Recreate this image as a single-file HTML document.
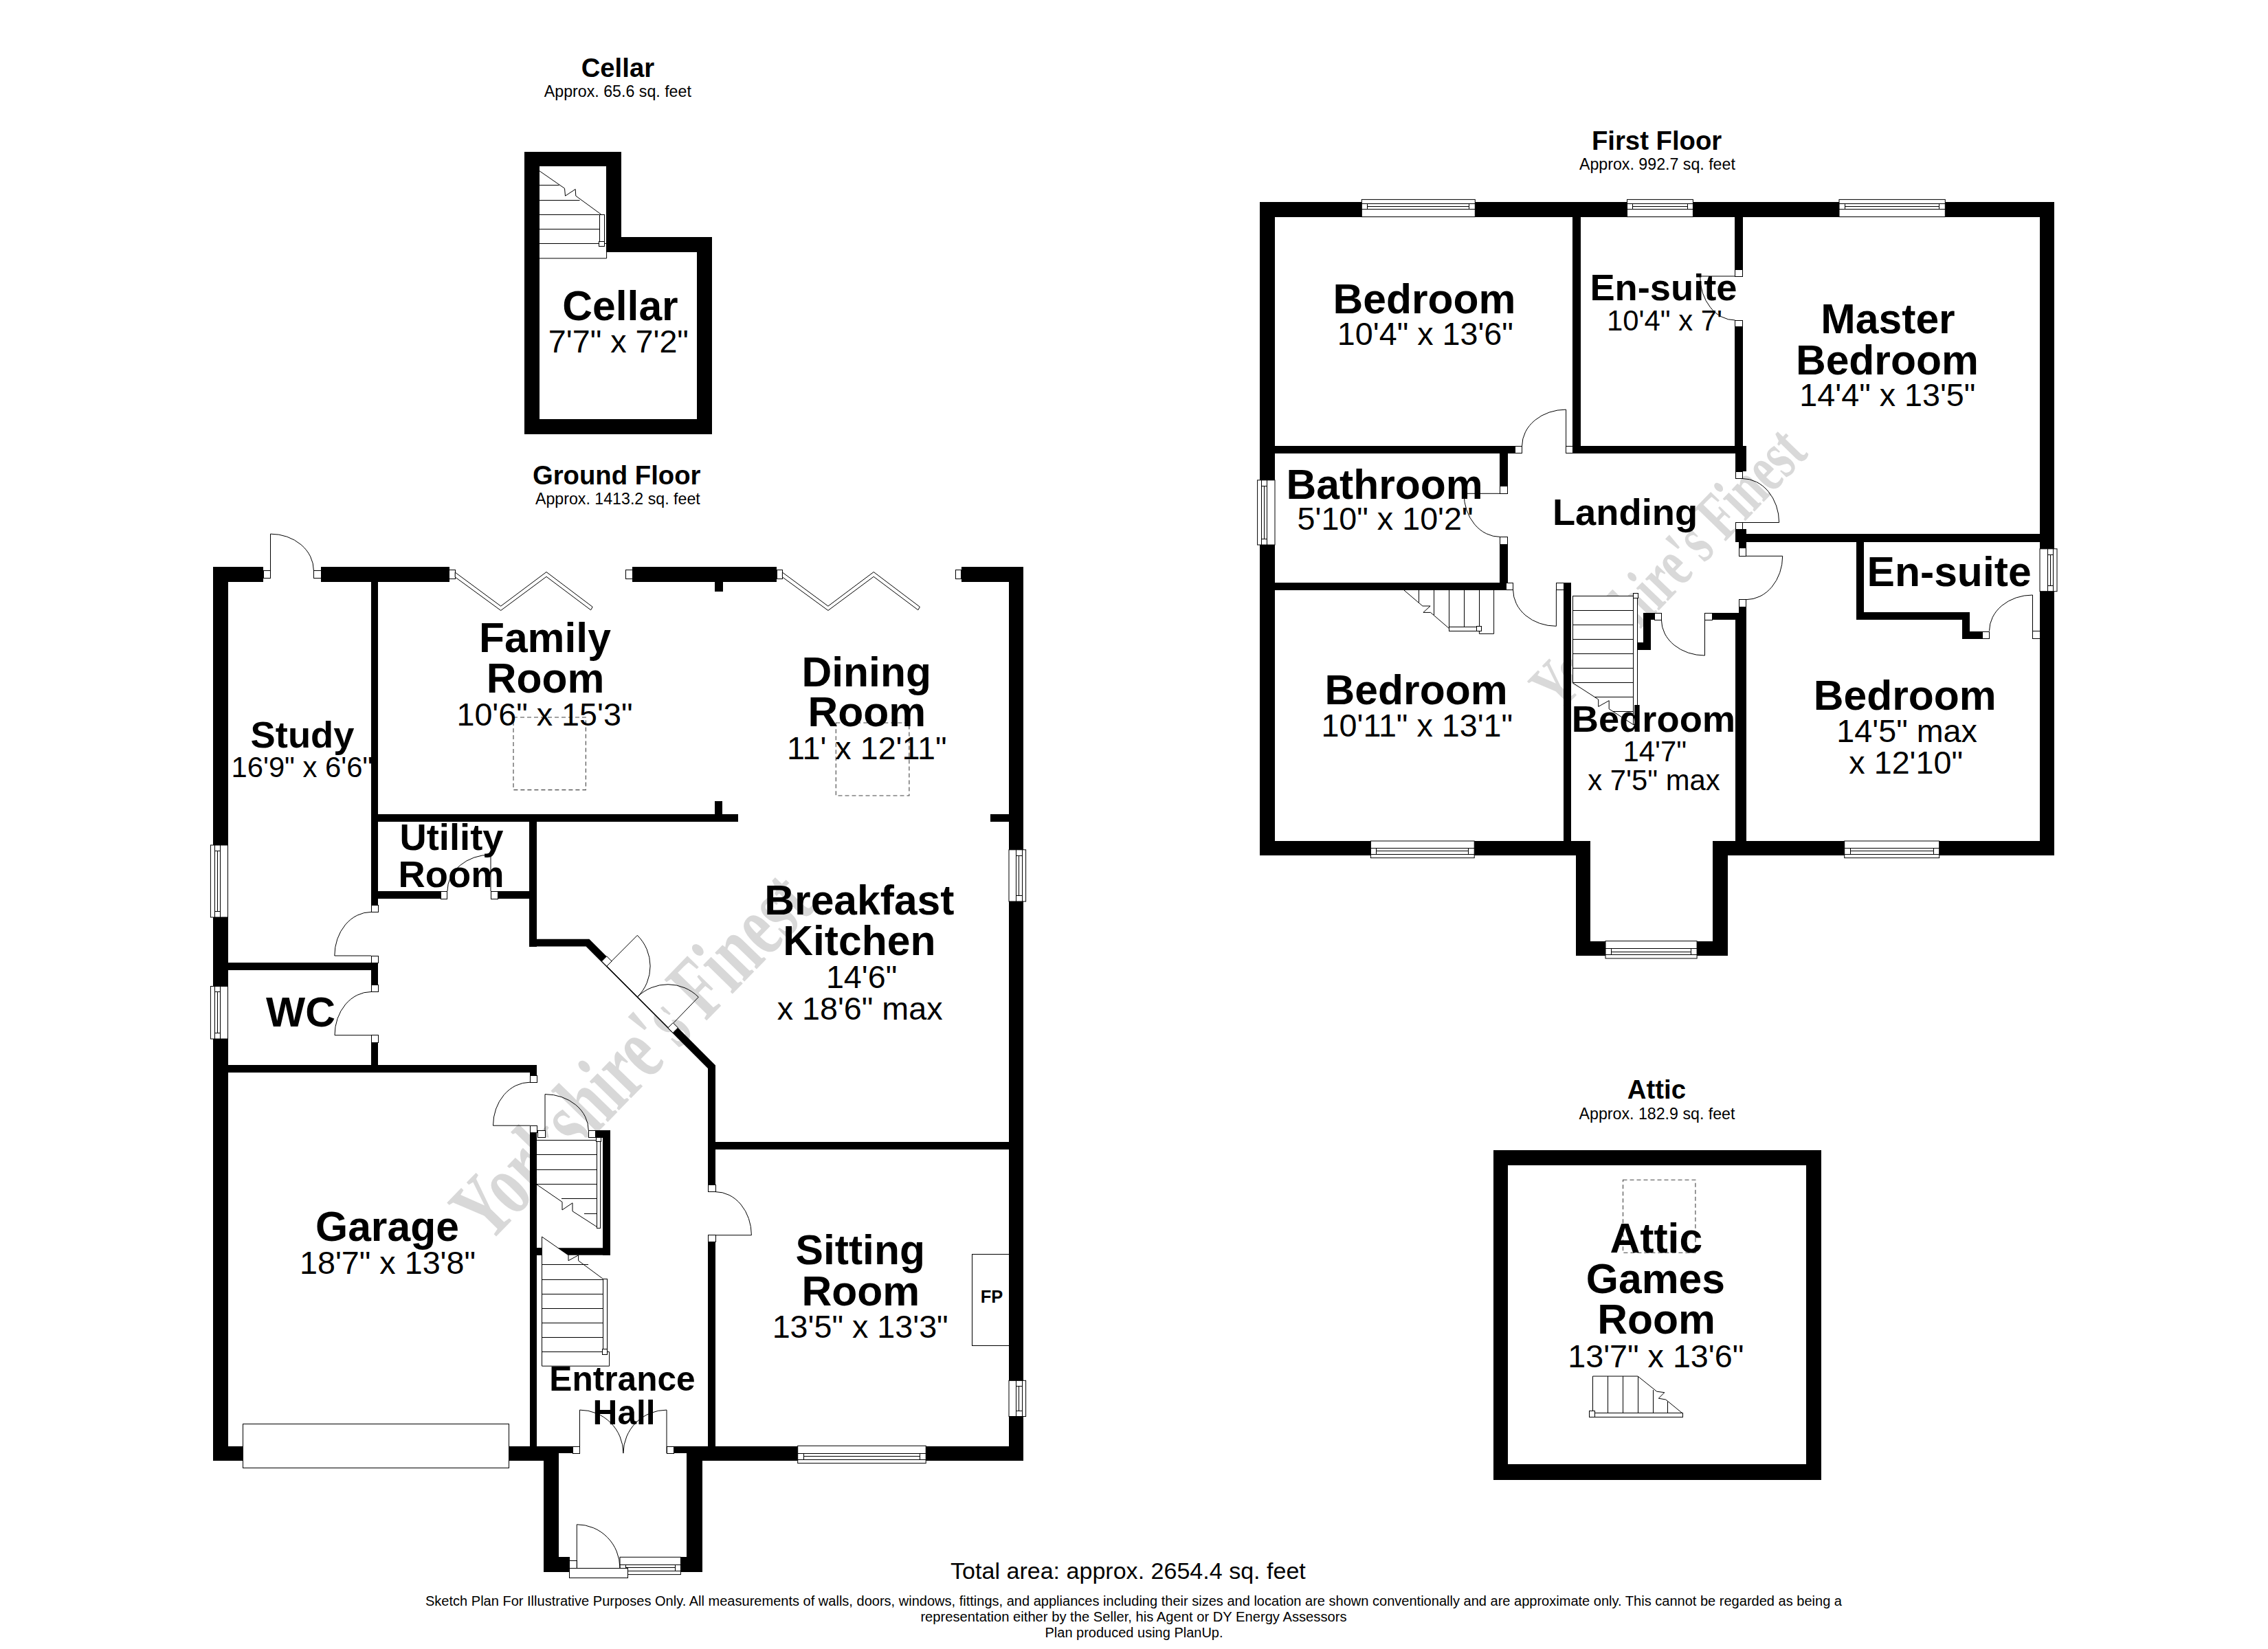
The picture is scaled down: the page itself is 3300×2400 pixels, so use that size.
<!DOCTYPE html>
<html><head><meta charset="utf-8"><title>Floor Plan</title>
<style>html,body{margin:0;padding:0;background:#fff;width:3300px;height:2400px;overflow:hidden}svg{display:block}</style>
</head><body>
<svg width="3300" height="2400" viewBox="0 0 3300 2400">
<style>
.j{fill:#fff;stroke:#000;stroke-width:1}
.sf{fill:#fff;stroke:none}
.sfn{fill:#fff;stroke:none}
.ds{fill:#fff;stroke:none}
.pl{fill:none;stroke:#000;stroke-width:1}
line{stroke:#000;stroke-width:1}
.dash{fill:none;stroke:#444;stroke-width:1.1;stroke-dasharray:6 4}
text{font-family:"Liberation Sans",sans-serif;fill:#000}
.wm{font-family:"Liberation Serif",serif;font-weight:bold}
</style>
<rect width="3300" height="2400" fill="#fff"/>
<g><text class="wm" style="fill:#d8d8d8" transform="translate(710.61,1811.2) rotate(-45.75) scale(1,1.4784)" font-size="88.48">Yorkshire&#39;s Finest</text><text class="wm" style="fill:#d9d9d9" transform="translate(2268.31,1038.33) rotate(-45.93) scale(1,1.4782)" font-size="67.77">Yorkshire&#39;s Finest</text></g>
<g><rect class="sf" x="785.5" y="242.5" width="97" height="134"/><polyline class="pl" points="785,376 882.6,376 882.6,354.5"/><line x1="785" y1="354.5" x2="882.6" y2="354.5"/><line x1="785" y1="333.5" x2="872.4" y2="333.5"/><line x1="785" y1="312.5" x2="872.4" y2="312.5"/><line x1="785" y1="291.5" x2="843.5" y2="291.5"/><line x1="785" y1="269.5" x2="813.5" y2="269.5"/><polyline class="pl" points="784.8,248.7 821.5,274.2 822.5,285.1 837.2,275.4 837.8,285.1 874.6,312"/><rect class="j" x="872.5" y="312.5" width="7" height="46"/><rect class="j" x="871.5" y="351.5" width="8" height="7"/><rect class="sf" x="781.5" y="1655.5" width="85" height="161"/><line x1="781" y1="1659.5" x2="868.3" y2="1659.5"/><line x1="781" y1="1680.5" x2="868.3" y2="1680.5"/><line x1="781" y1="1702.5" x2="868.3" y2="1702.5"/><line x1="781" y1="1723.5" x2="868.3" y2="1723.5"/><line x1="817" y1="1744.5" x2="868.3" y2="1744.5"/><line x1="850" y1="1766.5" x2="868.3" y2="1766.5"/><polyline class="pl" points="781,1724 818,1749.4 818,1761 833,1750.8 833,1762.8 868.3,1785.5"/><rect class="j" x="868.5" y="1657.5" width="5" height="130"/><rect class="j" x="867.5" y="1654.5" width="7" height="7"/><rect class="sfn" x="788.5" y="1800.5" width="89" height="188"/><polyline class="pl" points="788.5,1800 788.5,1988.2 886.6,1988.2 886.6,1967.7"/><polyline class="pl" points="788.5,1800 827,1826.8 827,1834.8 841.6,1826.8 841.6,1834.8 877.6,1861.5"/><line x1="788.5" y1="1862.5" x2="877.6" y2="1862.5"/><line x1="788.5" y1="1883.5" x2="877.6" y2="1883.5"/><line x1="788.5" y1="1904.5" x2="877.6" y2="1904.5"/><line x1="788.5" y1="1925.5" x2="877.6" y2="1925.5"/><line x1="788.5" y1="1946.5" x2="877.6" y2="1946.5"/><line x1="788.5" y1="1840.5" x2="856" y2="1840.5"/><line x1="788.5" y1="1967.5" x2="886.6" y2="1967.5"/><rect class="j" x="877.5" y="1861.5" width="6" height="109"/><rect class="j" x="876.5" y="1963.5" width="7" height="8"/><polygon class="sfn" points="2288.3,867 2377,867 2377,1054.3 2341.2,1031.8 2341.2,1019.7 2325.7,1028.4 2325.7,1018 2288.3,993.8"/><line x1="2288.5" y1="867" x2="2288.5" y2="993.8"/><line x1="2288.3" y1="867.5" x2="2377" y2="867.5"/><line x1="2288.3" y1="888.5" x2="2377" y2="888.5"/><line x1="2288.3" y1="909.5" x2="2377" y2="909.5"/><line x1="2288.3" y1="930.5" x2="2377" y2="930.5"/><line x1="2288.3" y1="951.5" x2="2377" y2="951.5"/><line x1="2288.3" y1="972.5" x2="2377" y2="972.5"/><line x1="2288.3" y1="993.5" x2="2377" y2="993.5"/><line x1="2320" y1="1014.5" x2="2377" y2="1014.5"/><line x1="2346.6" y1="1035.5" x2="2377" y2="1035.5"/><polyline class="pl" points="2288.3,993.8 2325.7,1018 2325.7,1028.4 2341.2,1019.7 2341.2,1031.8 2376,1054.3"/><rect class="j" x="2376.5" y="867.5" width="6" height="187"/><rect class="j" x="2376.5" y="863.5" width="7" height="7"/><polygon class="sfn" points="2042.7,858.8 2173.6,858.8 2173.6,922.4 2152.4,922.4 2152.4,918 2108.3,918 2108.3,914.5 2081.5,891.4 2070.9,891.4 2081.1,882 2069.9,882"/><polyline class="pl" points="2042.7,858.8 2069.9,882 2081.1,882 2070.9,891.4 2081.5,891.4 2108.3,914.5"/><line x1="2064.5" y1="858.8" x2="2064.5" y2="876.7"/><line x1="2086.5" y1="858.8" x2="2086.5" y2="895.1"/><line x1="2108.5" y1="858.8" x2="2108.5" y2="914.5"/><line x1="2130.5" y1="858.8" x2="2130.5" y2="912.4"/><line x1="2152.5" y1="858.8" x2="2152.5" y2="911.3"/><polyline class="pl" points="2173.6,858.8 2173.6,922.4 2152.4,922.4 2152.4,918"/><rect class="j" x="2108.5" y="912.5" width="40" height="6"/><rect class="j" x="2148.5" y="911.5" width="7" height="7"/><polygon class="sfn" points="2317.5,2003 2383,2003 2410.7,2025.2 2421.8,2026.7 2413.3,2035.2 2423.7,2037 2447.7,2056.7 2317.5,2056.7"/><polyline class="pl" points="2317.5,2056.7 2317.5,2003 2383,2003 2410.7,2025.2 2421.8,2026.7 2413.3,2035.2 2423.7,2037 2447.7,2056.7"/><line x1="2339.5" y1="2003" x2="2339.5" y2="2056.7"/><line x1="2361.5" y1="2003" x2="2361.5" y2="2056.7"/><line x1="2383.5" y1="2003" x2="2383.5" y2="2056.7"/><line x1="2405.5" y1="2023" x2="2405.5" y2="2056.7"/><line x1="2426.5" y1="2040" x2="2426.5" y2="2056.7"/><rect class="j" x="2312.5" y="2056.5" width="136" height="6"/><rect class="j" x="2312.5" y="2053.5" width="8" height="9"/></g>
<g fill="#000"><rect x="763" y="221" width="141" height="21"/><rect x="763" y="221" width="22" height="411"/><rect x="882" y="221" width="22" height="146"/><rect x="882" y="345" width="154" height="22"/><rect x="1014" y="345" width="22" height="287"/><rect x="763" y="610" width="273" height="22"/><rect x="310" y="825" width="73" height="22"/><rect x="467" y="825" width="187" height="22"/><rect x="920" y="825" width="210" height="22"/><rect x="1399" y="825" width="90" height="22"/><rect x="310" y="825" width="22" height="1301"/><rect x="1468" y="825" width="21" height="1301"/><rect x="1040" y="846" width="12" height="15"/><rect x="310" y="2105" width="481" height="21"/><rect x="791" y="2105" width="22" height="183"/><rect x="791" y="2266" width="38" height="22"/><rect x="990" y="2266" width="32" height="22"/><rect x="999" y="2105" width="23" height="183"/><rect x="999" y="2105" width="490" height="21"/><rect x="781" y="2105" width="52" height="10"/><rect x="980" y="2105" width="20" height="10"/><rect x="540" y="847" width="10" height="470"/><rect x="540" y="1402" width="10" height="32"/><rect x="540" y="1517" width="10" height="33"/><rect x="331" y="1401" width="219" height="11"/><rect x="550" y="1185" width="524" height="11"/><rect x="1040" y="1166" width="11" height="19"/><rect x="1441" y="1185" width="27" height="11"/><rect x="550" y="1297" width="91" height="11"/><rect x="724" y="1297" width="57" height="11"/><rect x="770" y="1196" width="11" height="182"/><polygon points="770,1366.8 857.4,1366.8 1041,1550.4 1041,1662 1030,1662 1030,1555 852.6,1377.6 770,1377.6"/><rect x="1030" y="1662" width="11" height="62"/><rect x="1030" y="1808" width="11" height="297"/><rect x="1041" y="1662" width="427" height="11"/><rect x="331" y="1550" width="450" height="11"/><rect x="771" y="1550" width="10" height="15"/><rect x="771" y="1648" width="10" height="457"/><rect x="866" y="1645" width="22" height="11"/><rect x="877" y="1645" width="11" height="182"/><polygon points="811.7,1816.2 888,1816.2 888,1826.8 827,1826.8"/><rect x="781" y="1816" width="8" height="11"/><rect x="1833" y="294" width="1156" height="22"/><rect x="1833" y="294" width="22" height="951"/><rect x="2968" y="294" width="21" height="951"/><rect x="1833" y="1224" width="481" height="21"/><rect x="2293" y="1224" width="21" height="167"/><rect x="2293" y="1370" width="221" height="21"/><rect x="2492" y="1224" width="22" height="167"/><rect x="2492" y="1224" width="497" height="21"/><rect x="2288" y="315" width="12" height="334"/><rect x="1855" y="649" width="349" height="11"/><rect x="2288" y="649" width="253" height="11"/><rect x="2524" y="315" width="12" height="77"/><rect x="2524" y="476" width="12" height="173"/><rect x="2525" y="649" width="16" height="37"/><rect x="2525" y="770" width="16" height="19"/><rect x="2541" y="777" width="427" height="12"/><rect x="2530" y="788" width="11" height="10"/><rect x="2530" y="883" width="11" height="10"/><rect x="2525" y="892" width="16" height="332"/><rect x="2182" y="660" width="12" height="48"/><rect x="2182" y="792" width="12" height="56"/><rect x="1855" y="848" width="337" height="11"/><rect x="2275" y="848" width="11" height="376"/><rect x="2391" y="892" width="16" height="10"/><rect x="2391" y="892" width="11" height="54"/><rect x="2383" y="935" width="19" height="11"/><rect x="2491" y="892" width="35" height="10"/><rect x="2701" y="788" width="11" height="114"/><rect x="2701" y="891" width="165" height="11"/><rect x="2855" y="891" width="11" height="39"/><rect x="2855" y="919" width="29" height="11"/><rect x="2173" y="1674" width="477" height="22"/><rect x="2173" y="2131" width="477" height="23"/><rect x="2173" y="1674" width="21" height="480"/><rect x="2628" y="1674" width="22" height="480"/></g>
<g><rect class="j" x="306.4" y="1230" width="25.1" height="105"/><line x1="312.5" y1="1230" x2="312.5" y2="1335"/><line x1="320.5" y1="1230" x2="320.5" y2="1335"/><line x1="312" y1="1238.5" x2="320.4" y2="1238.5"/><line x1="312" y1="1326.5" x2="320.4" y2="1326.5"/><line x1="316.5" y1="1238.4" x2="316.5" y2="1326.6"/><rect class="j" x="306.4" y="1435.5" width="25.1" height="76.5"/><line x1="312.5" y1="1435.5" x2="312.5" y2="1512"/><line x1="320.5" y1="1435.5" x2="320.5" y2="1512"/><line x1="312" y1="1443.5" x2="320.4" y2="1443.5"/><line x1="312" y1="1503.5" x2="320.4" y2="1503.5"/><line x1="316.5" y1="1443.9" x2="316.5" y2="1503.6"/><rect class="j" x="1468" y="1236.8" width="24.6" height="75.2"/><line x1="1487.5" y1="1236.8" x2="1487.5" y2="1312"/><line x1="1478.5" y1="1236.8" x2="1478.5" y2="1312"/><line x1="1487" y1="1245.5" x2="1478.6" y2="1245.5"/><line x1="1487" y1="1303.5" x2="1478.6" y2="1303.5"/><line x1="1482.5" y1="1245.2" x2="1482.5" y2="1303.6"/><rect class="j" x="1468" y="2009.3" width="24.6" height="52.2"/><line x1="1487.5" y1="2009.3" x2="1487.5" y2="2061.5"/><line x1="1478.5" y1="2009.3" x2="1478.5" y2="2061.5"/><line x1="1487" y1="2017.5" x2="1478.6" y2="2017.5"/><line x1="1487" y1="2053.5" x2="1478.6" y2="2053.5"/><line x1="1482.5" y1="2017.7" x2="1482.5" y2="2053.1"/><rect class="j" x="1160.7" y="2104.3" width="186.5" height="25.3"/><line x1="1160.7" y1="2124.5" x2="1347.2" y2="2124.5"/><line x1="1160.7" y1="2115.5" x2="1347.2" y2="2115.5"/><line x1="1169.5" y1="2124" x2="1169.5" y2="2115.6"/><line x1="1338.5" y1="2124" x2="1338.5" y2="2115.6"/><line x1="1169.1" y1="2119.5" x2="1338.8" y2="2119.5"/><rect class="j" x="902" y="2266.3" width="88.4" height="25.3"/><line x1="902" y1="2286.5" x2="990.4" y2="2286.5"/><line x1="902" y1="2277.5" x2="990.4" y2="2277.5"/><line x1="910.5" y1="2286" x2="910.5" y2="2277.6"/><line x1="982.5" y1="2286" x2="982.5" y2="2277.6"/><line x1="910.4" y1="2281.5" x2="982" y2="2281.5"/><rect class="j" x="353.5" y="2072.5" width="387" height="64"/><rect class="j" x="828.5" y="2282.5" width="85" height="14"/><rect class="j" x="383.5" y="830.5" width="10" height="11"/><rect class="j" x="456.5" y="830.5" width="11" height="11"/><rect class="j" x="653.5" y="829.5" width="9" height="13"/><rect class="j" x="910.5" y="829.5" width="10" height="13"/><rect class="j" x="1130.5" y="829.5" width="8" height="13"/><rect class="j" x="1390.5" y="829.5" width="8" height="13"/><rect class="j" x="540.5" y="1317.5" width="10" height="10"/><rect class="j" x="540.5" y="1391.5" width="10" height="10"/><rect class="j" x="540.5" y="1433.5" width="10" height="10"/><rect class="j" x="540.5" y="1506.5" width="10" height="11"/><rect class="j" x="641.5" y="1297.5" width="9" height="11"/><rect class="j" x="714.5" y="1297.5" width="10" height="11"/><rect class="j" x="771.5" y="1565.5" width="10" height="10"/><rect class="j" x="771.5" y="1638.5" width="10" height="10"/><rect class="j" x="782.5" y="1645.5" width="11" height="10"/><rect class="j" x="856.5" y="1645.5" width="10" height="10"/><rect class="j" x="1030.5" y="1724.5" width="11" height="10"/><rect class="j" x="1030.5" y="1797.5" width="11" height="10"/><rect class="j" x="833.5" y="2105.5" width="10" height="10"/><rect class="j" x="970.5" y="2105.5" width="10" height="10"/><rect class="j" x="828.5" y="2271.5" width="11" height="11"/><polygon fill="#fff" points="889.7,1399 883.1,1406 972.1,1495.6 980.3,1488.5 973,1481 896,1392"/><polygon class="j" points="882.8,1391.7 890.1,1399 882.8,1406.3 875.5,1399"/><polygon class="j" points="979.2,1488.6 986.5,1495.9 979.2,1503.2 971.9,1495.9"/><line x1="883.1" y1="1406.2" x2="972.1" y2="1495.4"/><polygon class="j" points="662.2,833 728.7,882.2 795,832.5 862.2,883.3 859.6,887.8 795,839.3 728.7,888.5 662.2,839.9"/><polygon class="j" points="1138.4,833 1204.9,882.2 1271.2,832.5 1338.4,883.3 1335.8,887.8 1271.2,839.3 1204.9,888.5 1138.4,839.9"/><rect class="j" x="1414.5" y="1825.5" width="54" height="133"/><rect class="j" x="1981.3" y="290.4" width="165" height="25.2"/><line x1="1981.3" y1="296.5" x2="2146.3" y2="296.5"/><line x1="1981.3" y1="304.5" x2="2146.3" y2="304.5"/><line x1="1989.5" y1="296" x2="1989.5" y2="304.4"/><line x1="2137.5" y1="296" x2="2137.5" y2="304.4"/><line x1="1989.7" y1="300.5" x2="2137.9" y2="300.5"/><rect class="j" x="2367.5" y="290.4" width="95.9" height="25.2"/><line x1="2367.5" y1="296.5" x2="2463.4" y2="296.5"/><line x1="2367.5" y1="304.5" x2="2463.4" y2="304.5"/><line x1="2375.5" y1="296" x2="2375.5" y2="304.4"/><line x1="2455.5" y1="296" x2="2455.5" y2="304.4"/><line x1="2375.9" y1="300.5" x2="2455" y2="300.5"/><rect class="j" x="2676" y="290.4" width="154.3" height="25.2"/><line x1="2676" y1="296.5" x2="2830.3" y2="296.5"/><line x1="2676" y1="304.5" x2="2830.3" y2="304.5"/><line x1="2684.5" y1="296" x2="2684.5" y2="304.4"/><line x1="2821.5" y1="296" x2="2821.5" y2="304.4"/><line x1="2684.4" y1="300.5" x2="2821.9" y2="300.5"/><rect class="j" x="1829.6" y="698.8" width="25.4" height="94.2"/><line x1="1835.5" y1="698.8" x2="1835.5" y2="793"/><line x1="1843.5" y1="698.8" x2="1843.5" y2="793"/><line x1="1835.2" y1="707.5" x2="1843.6" y2="707.5"/><line x1="1835.2" y1="784.5" x2="1843.6" y2="784.5"/><line x1="1839.5" y1="707.2" x2="1839.5" y2="784.6"/><rect class="j" x="2968" y="798.8" width="25" height="61.9"/><line x1="2987.5" y1="798.8" x2="2987.5" y2="860.7"/><line x1="2979.5" y1="798.8" x2="2979.5" y2="860.7"/><line x1="2987.4" y1="807.5" x2="2979" y2="807.5"/><line x1="2987.4" y1="852.5" x2="2979" y2="852.5"/><line x1="2983.5" y1="807.2" x2="2983.5" y2="852.3"/><rect class="j" x="1994.4" y="1224" width="150.8" height="24.6"/><line x1="1994.4" y1="1243.5" x2="2145.2" y2="1243.5"/><line x1="1994.4" y1="1234.5" x2="2145.2" y2="1234.5"/><line x1="2002.5" y1="1243" x2="2002.5" y2="1234.6"/><line x1="2136.5" y1="1243" x2="2136.5" y2="1234.6"/><line x1="2002.8" y1="1238.5" x2="2136.8" y2="1238.5"/><rect class="j" x="2336" y="1369.6" width="133.1" height="25.3"/><line x1="2336" y1="1389.5" x2="2469.1" y2="1389.5"/><line x1="2336" y1="1380.5" x2="2469.1" y2="1380.5"/><line x1="2344.5" y1="1389.3" x2="2344.5" y2="1380.9"/><line x1="2460.5" y1="1389.3" x2="2460.5" y2="1380.9"/><line x1="2344.4" y1="1385.5" x2="2460.7" y2="1385.5"/><rect class="j" x="2683.7" y="1224" width="138" height="24.6"/><line x1="2683.7" y1="1243.5" x2="2821.7" y2="1243.5"/><line x1="2683.7" y1="1234.5" x2="2821.7" y2="1234.5"/><line x1="2692.5" y1="1243" x2="2692.5" y2="1234.6"/><line x1="2813.5" y1="1243" x2="2813.5" y2="1234.6"/><line x1="2692.1" y1="1238.5" x2="2813.3" y2="1238.5"/><rect class="j" x="2204.5" y="649.5" width="10" height="10"/><rect class="j" x="2278.5" y="649.5" width="10" height="10"/><rect class="j" x="2524.5" y="392.5" width="11" height="10"/><rect class="j" x="2524.5" y="466.5" width="11" height="9"/><rect class="j" x="2525.5" y="686.5" width="10" height="10"/><rect class="j" x="2525.5" y="760.5" width="10" height="10"/><rect class="j" x="2182.5" y="707.5" width="11" height="11"/><rect class="j" x="2182.5" y="781.5" width="11" height="11"/><rect class="j" x="2191.5" y="848.5" width="10" height="10"/><rect class="j" x="2264.5" y="848.5" width="11" height="10"/><rect class="j" x="2530.5" y="797.5" width="10" height="12"/><rect class="j" x="2530.5" y="872.5" width="10" height="11"/><rect class="j" x="2407.5" y="892.5" width="10" height="10"/><rect class="j" x="2480.5" y="892.5" width="11" height="10"/><rect class="j" x="2884.5" y="919.5" width="10" height="10"/><rect class="j" x="2957.5" y="918.5" width="11" height="11"/></g>
<g><path class="pl" d="M393.5,830.3 L393.5,777.1 A62.9,53.2 0 0 1 456.4,830.3"/><path class="pl" d="M540,1391 L486.8,1391 A53.2,63.6 0 0 1 540,1327.4"/><path class="pl" d="M540,1506.7 L487,1506.7 A53,63.2 0 0 1 540,1443.5"/><path class="pl" d="M714,1297 L714,1244 A63.1,53 0 0 0 650.9,1297"/><path class="pl" d="M771,1638.2 L717.5,1638.2 A53.5,63 0 0 1 771,1575.2"/><path class="pl" d="M793,1645.4 L793,1592.6 A63.3,52.8 0 0 1 856.3,1645.4"/><path class="pl" d="M1041,1797.7 L1093.4,1797.7 A52.4,63.1 0 0 0 1041,1734.6"/><path class="pl" d="M843.5,2115.1 L843.5,2052.1 A63.4,63 0 0 1 906.9,2115.1"/><path class="pl" d="M970,2115.1 L970,2052.1 A63.1,63 0 0 0 906.9,2115.1"/><path class="pl" d="M839.3,2282.2 L839.3,2218.8 A62.7,63.4 0 0 1 902,2282.2"/><path class="pl" d="M889.7,1399 L927.3,1361.3 A63,63 0 0 1 927.6,1450.8"/><path class="pl" d="M980.3,1488.5 L1016.3,1451.2 A63,63 0 0 0 927.6,1450.8"/><rect class="dash" x="747" y="1044" width="105.4" height="105.6"/><rect class="dash" x="1216.3" y="1052" width="106.6" height="106"/><path class="pl" d="M2278.6,649 L2278.6,596.1 A64,52.9 0 0 0 2214.6,649"/><path class="pl" d="M2524.5,402 L2473.6,402 A50.9,64 0 0 0 2524.5,466"/><path class="pl" d="M2535,760.5 L2588.6,760.5 A53.6,64 0 0 0 2535,696.5"/><path class="pl" d="M2182.5,718.3 L2130,718.3 A52.5,63.1 0 0 0 2182.5,781.4"/><path class="pl" d="M2264.4,858.6 L2264.4,911.3 A62.8,52.7 0 0 1 2201.6,858.6"/><path class="pl" d="M2540.7,809.3 L2593.7,809.3 A53,63.4 0 0 1 2540.7,872.7"/><path class="pl" d="M2480.5,902.2 L2480.5,954 A63.1,51.8 0 0 1 2417.4,902.2"/><path class="pl" d="M2957.5,918.3 L2957.5,866 A63,52.3 0 0 0 2894.5,918.3"/><rect class="dash" x="2361.5" y="1717.2" width="105.4" height="106.1"/></g>
<g><text x="845.66" y="112" font-size="38.3" font-weight="bold">Cellar</text><text x="791.86" y="140.6" font-size="23.2" font-weight="normal">Approx. 65.6 sq. feet</text><text x="818.27" y="466" font-size="60.6" font-weight="bold">Cellar</text><text x="797.8" y="512.8" font-size="46.7" font-weight="normal">7'7&quot; x 7'2&quot;</text><text x="774.88" y="705" font-size="38.3" font-weight="bold">Ground Floor</text><text x="778.96" y="733.8" font-size="23.2" font-weight="normal">Approx. 1413.2 sq. feet</text><text x="696.92" y="948.9" font-size="60.6" font-weight="bold">Family</text><text x="707.78" y="1008" font-size="60.6" font-weight="bold">Room</text><text x="664.43" y="1055.6" font-size="46.7" font-weight="normal">10'6&quot; x 15'3&quot;</text><text x="364.59" y="1087.6" font-size="54.3" font-weight="bold">Study</text><text x="336.42" y="1131" font-size="41.8" font-weight="normal">16'9&quot; x 6'6&quot;</text><text x="1166.47" y="998.7" font-size="60.6" font-weight="bold">Dining</text><text x="1175.58" y="1057" font-size="60.6" font-weight="bold">Room</text><text x="1145.02" y="1105.3" font-size="46.7" font-weight="normal">11' x 12'11&quot;</text><text x="581.59" y="1236.7" font-size="54.3" font-weight="bold">Utility</text><text x="579.6" y="1290.9" font-size="54.3" font-weight="bold">Room</text><text x="386.95" y="1493.6" font-size="60.6" font-weight="bold">WC</text><text x="1112.31" y="1330.7" font-size="60.6" font-weight="bold">Breakfast</text><text x="1139.27" y="1390" font-size="60.6" font-weight="bold">Kitchen</text><text x="1201.88" y="1437.5" font-size="46.7" font-weight="normal">14'6&quot;</text><text x="1130.71" y="1484" font-size="46.7" font-weight="normal">x 18'6&quot; max</text><text x="459.04" y="1806.3" font-size="60.6" font-weight="bold">Garage</text><text x="436.03" y="1853.5" font-size="46.7" font-weight="normal">18'7&quot; x 13'8&quot;</text><text x="799.36" y="2023.5" font-size="49.6" font-weight="bold">Entrance</text><text x="862.59" y="2072.8" font-size="49.6" font-weight="bold">Hall</text><text x="1157.47" y="1840" font-size="60.6" font-weight="bold">Sitting</text><text x="1166.58" y="1900" font-size="60.6" font-weight="bold">Room</text><text x="1123.63" y="1946.9" font-size="46.7" font-weight="normal">13'5&quot; x 13'3&quot;</text><text x="1426.71" y="1895.6" font-size="25.5" font-weight="bold">FP</text><text x="2315.9" y="218" font-size="38.3" font-weight="bold">First Floor</text><text x="2297.99" y="246.8" font-size="23.2" font-weight="normal">Approx. 992.7 sq. feet</text><text x="1939.48" y="455.6" font-size="60.6" font-weight="bold">Bedroom</text><text x="1945.83" y="502.2" font-size="46.7" font-weight="normal">10'4&quot; x 13'6&quot;</text><text x="2313.39" y="437.1" font-size="54.3" font-weight="bold">En-suite</text><text x="2338.03" y="480.7" font-size="41.8" font-weight="normal">10'4&quot; x 7'</text><text x="2649.36" y="484.7" font-size="60.6" font-weight="bold">Master</text><text x="2612.88" y="545.4" font-size="60.6" font-weight="bold">Bedroom</text><text x="2618.33" y="591.3" font-size="46.7" font-weight="normal">14'4&quot; x 13'5&quot;</text><text x="1871.61" y="725.7" font-size="60.6" font-weight="bold">Bathroom</text><text x="1887.53" y="771.2" font-size="46.7" font-weight="normal">5'10&quot; x 10'2&quot;</text><text x="2258.95" y="763.9" font-size="54.3" font-weight="bold">Landing</text><text x="1927.58" y="1024.6" font-size="60.6" font-weight="bold">Bedroom</text><text x="1922.56" y="1071.7" font-size="46.7" font-weight="normal">10'11&quot; x 13'1&quot;</text><text x="2286.81" y="1064.6" font-size="54.3" font-weight="bold">Bedroom</text><text x="2361.61" y="1107.6" font-size="41.8" font-weight="normal">14'7&quot;</text><text x="2310.21" y="1149.9" font-size="41.8" font-weight="normal">x 7'5&quot; max</text><text x="2716.57" y="852.5" font-size="60.6" font-weight="bold">En-suite</text><text x="2638.68" y="1032.9" font-size="60.6" font-weight="bold">Bedroom</text><text x="2672.37" y="1079.9" font-size="46.7" font-weight="normal">14'5&quot; max</text><text x="2690.37" y="1126.3" font-size="46.7" font-weight="normal">x 12'10&quot;</text><text x="2367.84" y="1598.8" font-size="38.3" font-weight="bold">Attic</text><text x="2297.59" y="1629.2" font-size="23.2" font-weight="normal">Approx. 182.9 sq. feet</text><text x="2342.46" y="1822.6" font-size="60.6" font-weight="bold">Attic</text><text x="2307.85" y="1881.7" font-size="60.6" font-weight="bold">Games</text><text x="2324.18" y="1940.9" font-size="60.6" font-weight="bold">Room</text><text x="2281.23" y="1989.7" font-size="46.7" font-weight="normal">13'7&quot; x 13'6&quot;</text><text x="1383.1" y="2298.4" font-size="34.05" font-weight="normal">Total area: approx. 2654.4 sq. feet</text><text x="618.99" y="2336.5" font-size="20.04" font-weight="normal">Sketch Plan For Illustrative Purposes Only. All measurements of walls, doors, windows, fittings, and appliances including their sizes and location are shown conventionally and are approximate only. This cannot be regarded as being a</text><text x="1339.4" y="2360.4" font-size="20.2" font-weight="normal">representation either by the Seller, his Agent or DY Energy Assessors</text><text x="1520.47" y="2383" font-size="20" font-weight="normal">Plan produced using PlanUp.</text></g>
</svg>
</body></html>
